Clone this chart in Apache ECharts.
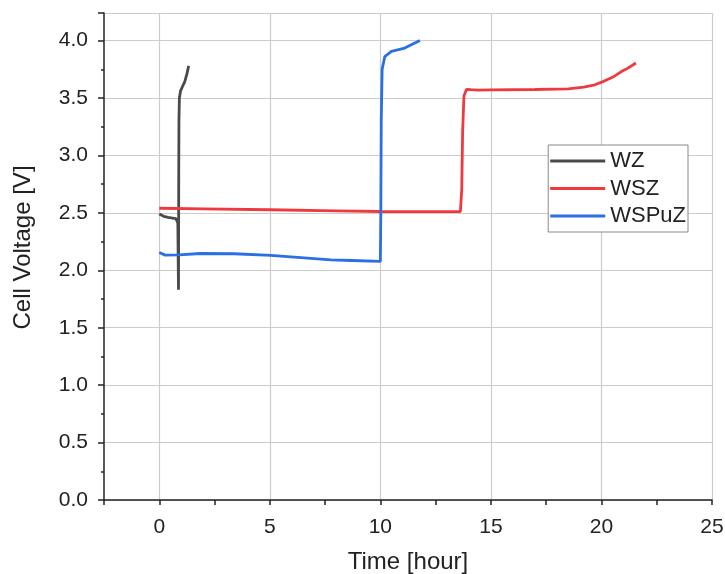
<!DOCTYPE html>
<html>
<head>
<meta charset="utf-8">
<script src="https://cdn.jsdelivr.net/npm/echarts@6/dist/echarts.min.js"></script>
<style>
html,body{margin:0;padding:0;background:#fff;}
#chart{width:725px;height:574px;}
</style>
</head>
<body>
<div id="chart"></div>
<script>
const seriesNames = ['WZ', 'WSZ', 'WSPuZ'];
const wzData = [[0,2.49],[0.2,2.47],[0.4,2.46],[0.6,2.455],[0.75,2.45],[0.8,2.43],[0.84,2.41],[0.86,2.0],[0.87,1.83],[0.875,2.3],[0.88,2.8],[0.89,3.3],[0.91,3.5],[0.96,3.56],[1.05,3.6],[1.15,3.64],[1.25,3.71],[1.33,3.78]];
const wszData = [[0,2.54],[2,2.535],[5,2.527],[8,2.518],[10,2.512],[12,2.51],[13.62,2.51],[13.68,2.7],[13.72,3.2],[13.78,3.52],[13.9,3.575],[14.1,3.572],[14.4,3.568],[15,3.57],[17,3.574],[18.5,3.58],[19.2,3.595],[19.7,3.615],[20.1,3.645],[20.5,3.68],[20.9,3.73],[21.2,3.76],[21.56,3.805]];
const wspuzData = [[0,2.155],[0.27,2.132],[0.9,2.135],[1.86,2.146],[3.38,2.144],[5.05,2.13],[6.4,2.11],[7.77,2.09],[8.7,2.085],[10.0,2.077],[10.02,2.5],[10.04,3.3],[10.08,3.75],[10.2,3.86],[10.5,3.905],[11.1,3.935],[11.79,4.0]];
const seriesColors = ['#4a4a4a', '#f0393f', '#2a6fe3'];
const xTickLabels = [0, 5, 10, 15, 20, 25];

const chart = echarts.init(document.getElementById('chart'));
const font = 'Liberation Sans, Arial, sans-serif';
chart.setOption({
  animation: false,
  backgroundColor: '#fff',
  grid: {left: 104, right: 13, top: 13, bottom: 74, containLabel: false, outerBoundsMode: 'none'},
  legend: {
    orient: 'vertical',
    right: 37,
    top: 145,
    data: seriesNames.map(function (n) { return {name: n, icon: 'rect'}; }),
    itemWidth: 55,
    itemHeight: 3,
    itemGap: 5.5,
    padding: [5, 2, 5, 2],
    borderColor: '#888',
    borderWidth: 1,
    borderRadius: 0,
    backgroundColor: '#fff',
    textStyle: {fontFamily: font, fontSize: 22, lineHeight: 22, color: '#222'}
  },
  xAxis: {
    type: 'value',
    min: -2.5,
    max: 25,
    interval: 2.5,
    name: 'Time [hour]',
    nameLocation: 'middle',
    nameGap: 50,
    nameTextStyle: {fontFamily: font, fontSize: 24, color: '#222'},
    axisLine: {show: true, onZero: false, lineStyle: {color: '#222', width: 1.5}},
    axisTick: {show: true, length: 5, lineStyle: {color: '#222', width: 1.5}},
    axisLabel: {
      fontFamily: font, fontSize: 21, color: '#222', margin: 17,
      formatter: function (v) { return xTickLabels.indexOf(v) >= 0 ? String(v) : ''; }
    },
    splitLine: {show: true, lineStyle: {color: ['transparent', '#cccccc'], width: 1.2}}
  },
  yAxis: {
    type: 'value',
    min: 0,
    max: 4.24,
    interval: 0.5,
    name: 'Cell Voltage [V]',
    nameLocation: 'middle',
    nameGap: 69,
    nameTextStyle: {fontFamily: font, fontSize: 24, color: '#222', padding: [0, 0, 0, 18]},
    axisLine: {show: true, onZero: false, lineStyle: {color: '#222', width: 1.5}},
    axisTick: {show: true, length: 6, lineStyle: {color: '#222', width: 1.5}},
    minorTick: {show: true, splitNumber: 2, length: 3, lineStyle: {color: '#222', width: 1.5}},
    axisLabel: {
      fontFamily: font, fontSize: 21, color: '#222', margin: 16,
      formatter: function (v) { return Math.abs(v * 2 - Math.round(v * 2)) < 1e-6 ? v.toFixed(1) : ''; }
    },
    splitLine: {show: true, lineStyle: {color: '#cccccc', width: 1.2}}
  },
  series: [
    {name: seriesNames[0], type: 'line', data: wzData, symbol: 'none', smooth: false, lineStyle: {color: seriesColors[0], width: 2.8}, itemStyle: {color: seriesColors[0]}},
    {name: seriesNames[1], type: 'line', data: wszData, symbol: 'none', smooth: false, lineStyle: {color: seriesColors[1], width: 2.8}, itemStyle: {color: seriesColors[1]}},
    {name: seriesNames[2], type: 'line', data: wspuzData, symbol: 'none', smooth: false, lineStyle: {color: seriesColors[2], width: 2.8}, itemStyle: {color: seriesColors[2]}}
  ]
});
</script>
</body>
</html>
